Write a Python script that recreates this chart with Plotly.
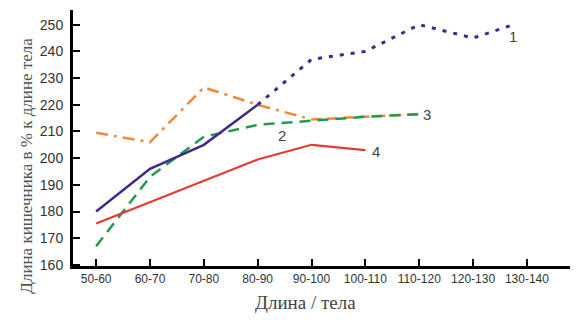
import plotly.graph_objects as go

categories = ["50-60", "60-70", "70-80", "80-90", "90-100", "100-110", "110-120", "120-130", "130-140"]

# Series 1 (purple): solid part then dotted continuation
s1_solid_x = [0, 1, 2, 3]
s1_solid_y = [180, 196, 205, 220]
s1_dot_x = [3, 4, 5, 6, 7, 7.75]
s1_dot_y = [220, 237, 240, 250, 245, 250]

# Series 2 (green dashed)
s2_x = [0, 1, 2, 3, 4, 5, 6]
s2_y = [167, 193, 208, 212.5, 214, 215.5, 216.5]

# Series 3 (orange dash-dot, then dashed)
s3a_x = [0, 1, 2, 3, 4]
s3a_y = [209.5, 206, 226.5, 220, 214.5]
s3b_x = [4, 5, 6]
s3b_y = [214.5, 215.5, 216.5]

# Series 4 (red)
s4_x = [0, 1, 2, 3, 4, 5]
s4_y = [175.5, 183.5, 191.5, 199.5, 205, 203]

yticks = [160, 170, 180, 190, 200, 210, 220, 230, 240, 250]

labels = [("1", 7.75, 245.5), ("2", 3.45, 208.5), ("3", 6.15, 216.5), ("4", 5.2, 202.5)]

x_title = "Длина / тела"
y_title = "Длина кишечника в % к длине тела"

PURPLE = "#3f2a8c"
GREEN = "#1f9a4e"
ORANGE = "#f08a3a"
RED = "#e63a2e"

fig = go.Figure()
fig.add_trace(go.Scatter(x=s3a_x, y=s3a_y, mode="lines",
                         line=dict(color=ORANGE, width=2.5, dash="12px,6px,3px,6px")))
fig.add_trace(go.Scatter(x=s3b_x, y=s3b_y, mode="lines",
                         line=dict(color=ORANGE, width=2.5, dash="10px,6px")))
fig.add_trace(go.Scatter(x=s2_x, y=s2_y, mode="lines",
                         line=dict(color=GREEN, width=2.5, dash="11px,7px")))
fig.add_trace(go.Scatter(x=s4_x, y=s4_y, mode="lines",
                         line=dict(color=RED, width=2.2)))
fig.add_trace(go.Scatter(x=s1_solid_x, y=s1_solid_y, mode="lines",
                         line=dict(color=PURPLE, width=2.5)))
fig.add_trace(go.Scatter(x=s1_dot_x, y=s1_dot_y, mode="lines",
                         line=dict(color=PURPLE, width=3, dash="4px,7px")))

for txt, xv, yv in labels:
    fig.add_annotation(x=xv, y=yv, text=txt, showarrow=False,
                       font=dict(family="Liberation Sans, Arial", size=15, color="#444"),
                       xanchor="center", yanchor="middle")

fig.add_annotation(xref="paper", x=0.467, yref="paper", y=0, yshift=-36, yanchor="middle",
                   text=x_title, showarrow=False,
                   font=dict(family="Liberation Serif, Times New Roman", size=19, color="#444"))
fig.add_annotation(xref="paper", x=0, xshift=-58, yref="paper", y=0.39, text=y_title,
                   showarrow=False, textangle=-90,
                   font=dict(family="Liberation Serif, Times New Roman", size=17, color="#555"))

fig.update_layout(
    width=576, height=320,
    margin=dict(l=73, r=6, t=10, b=54, autoexpand=False),
    paper_bgcolor="white", plot_bgcolor="white",
    showlegend=False,
    font=dict(family="Liberation Sans, Arial", size=12, color="#333"),
)
fig.update_xaxes(
    range=[-0.43, 8.8], tickvals=list(range(len(categories))), ticktext=categories,
    showgrid=False, zeroline=False, showline=True, linecolor="black", linewidth=3,
    ticks="inside", ticklen=7, tickwidth=2, tickcolor="black", automargin=False,
    tickfont=dict(size=12, color="#333"),
)
fig.update_yaxes(
    range=[159.6, 255.5], tickvals=yticks, automargin=False,
    showgrid=False, zeroline=False, showline=True, linecolor="black", linewidth=3,
    ticks="inside", ticklen=7, tickwidth=2, tickcolor="black",
    tickfont=dict(size=14, color="#333"), ticklabelstandoff=4,
)

fig.write_html("out.html", config={"displayModeBar": False},
               post_script="document.body.style.margin='0';")
